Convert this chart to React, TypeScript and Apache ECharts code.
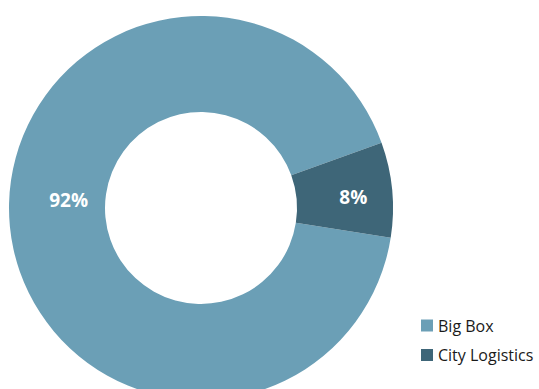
import React, { useEffect, useRef } from "react";
import * as echarts from "echarts";

const categories = ["Big Box", "City Logistics"];
const shares = [92, 8];
const colors = ["#6b9fb6", "#3e6678"];

export default function App() {
  const ref = useRef<HTMLDivElement>(null);
  useEffect(() => {
    document.body.style.margin = "0";
    const chart = echarts.init(ref.current!, null, { renderer: "svg" });
    chart.setOption({
      animation: false,
      backgroundColor: "#ffffff",
      legend: {
        orient: "vertical",
        left: 416,
        top: 311,
        icon: "rect",
        itemWidth: 12,
        itemHeight: 12,
        itemGap: 10.5,
        data: categories,
        textStyle: {
          fontFamily: "Open Sans",
          fontSize: 16,
          lineHeight: 16,
          color: "#1a1a1a",
          padding: [3, 0, 0, 0],
        },
      },
      series: [
        {
          type: "pie",
          radius: [96, 192],
          center: [201, 208],
          startAngle: -8.9,
          clockwise: true,
          silent: true,
          label: {
            show: true,
            position: "inside",
            formatter: "{c}%",
            color: "#ffffff",
            fontFamily: "Open Sans",
            fontWeight: "bold",
            fontSize: 19,
          },
          labelLine: { show: false },
          labelLayout: (p: any) =>
            p.dataIndex === 0 ? { dx: 14, dy: -22 } : { dx: 6, dy: 3 },
          data: categories.map((name, i) => ({
            name,
            value: shares[i],
            itemStyle: { color: colors[i] },
          })),
        },
      ],
    });
    return () => chart.dispose();
  }, []);
  return <div ref={ref} style={{ width: 539, height: 389 }} />;
}
